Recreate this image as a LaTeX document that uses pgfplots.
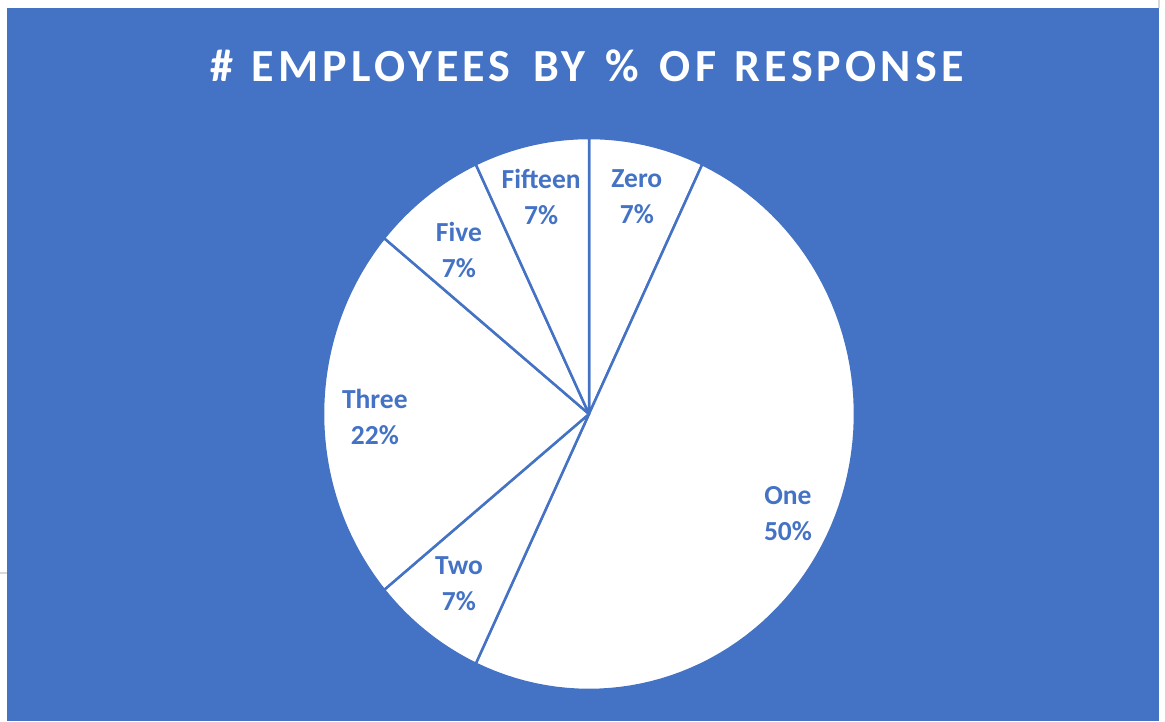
\documentclass[border=0pt]{standalone}
\usepackage{pgfplots}
\pgfplotsset{compat=1.18}
\usepackage{fontspec}
\setmainfont{Carlito}
\newfontfamily\titlefont[LetterSpace=9]{Carlito}
\definecolor{bgblue}{HTML}{4472C4}
\definecolor{labblue}{HTML}{4472C4}
\begin{document}
\begin{tikzpicture}[x=1pt,y=1pt]
\fill[white] (0,0) rectangle (1165,721);
\path[use as bounding box] (0,0) rectangle (1165,721);
\fill[bgblue] (7,0) rectangle (1159,713);
\draw[gray!30, line width=2pt] (0,148) -- (7,148);
\draw[gray!30, line width=1.5pt] (1159,713) -- (1159,721);
\node[white, font=\titlefont\bfseries\fontsize{46}{50}\selectfont] at (587,655) {\#\hspace{4pt} EMPLOYEES\hspace{8pt} BY\hspace{6pt} \%\hspace{6pt} OF\hspace{4pt} RESPONSE};
\begin{axis}[at={(589pt,307pt)}, anchor=center, hide axis, scale only axis,
  width=532pt, height=552pt, xmin=-1, xmax=1, ymin=-1, ymax=1, clip=false]
\newcommand{\pieslice}[2]{%
  \addplot[draw=bgblue, line width=2.5pt, fill=white, line join=round, domain={90-(#1+#2)*3.6}:{90-(#1)*3.6}, samples=80]
    ({cos(x)},{sin(x)}) -- (axis cs:0,0) -- cycle;}
% values (%): Zero 7, One 50, Two 7, Three 22, Five 7, Fifteen 7 (clockwise from top)
\pieslice{0}{7}
\pieslice{7}{50}
\pieslice{57}{7}
\pieslice{64}{22}
\pieslice{86}{7}
\pieslice{93}{7}
\begin{scope}[every node/.style={text=labblue, align=center, font=\bfseries\fontsize{27.5}{36}\selectfont}]
\node at (axis cs:0.180,0.786) {Zero\\7\%};
\node at (axis cs:0.748,-0.362) {One\\50\%};
\node at (axis cs:-0.489,-0.616) {Two\\7\%};
\node at (axis cs:-0.805,-0.011) {Three\\22\%};
\node at (axis cs:-0.489,0.594) {Five\\7\%};
\node at (axis cs:-0.180,0.786) {Fifteen\\7\%};
\end{scope}
\end{axis}
\end{tikzpicture}
\end{document}
